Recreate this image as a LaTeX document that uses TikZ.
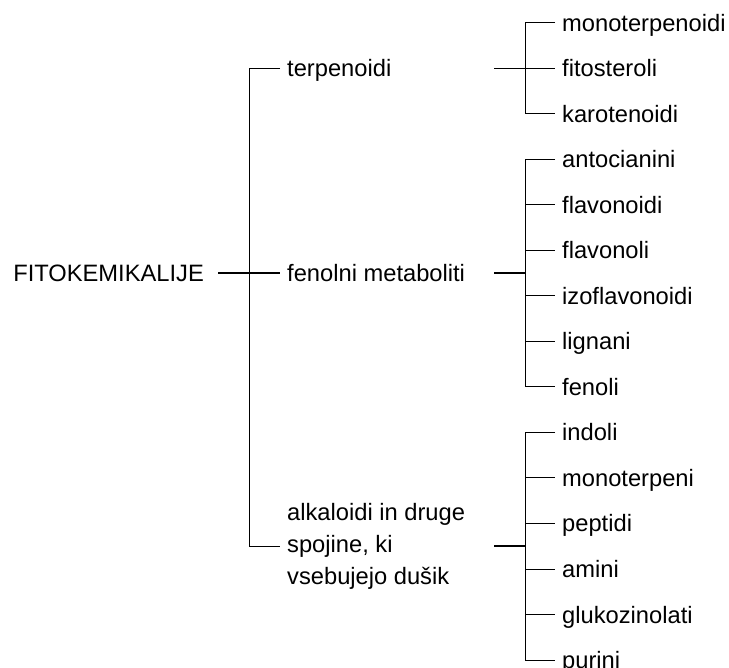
\documentclass[tikz,border=0pt]{standalone}
\usepackage{fontspec}
\setmainfont{Liberation Sans}

\begin{document}
\begin{tikzpicture}[x=1pt,y=-1pt,
  every node/.style={font=\fontsize{23.7}{32}\selectfont},
  item/.style={anchor=west,inner xsep=7pt,inner ysep=0pt,
               text height=17pt,text depth=0pt},
  link/.style={draw=black,line width=1pt},
  stub/.style={draw=black,line width=2pt}]
  \useasboundingbox (0,0) rectangle (729,668);
  % root and the three groups
  \node[item,anchor=east,inner xsep=14pt] (root) at (218,273) {FITOKEMIKALIJE};
  \node[item] (terp) at (280,68.5) {terpenoidi};
  \node[item] (fen)  at (280,273)  {fenolni metaboliti};
  \node[anchor=west,inner xsep=7pt,inner ysep=0pt,align=left] (alk) at (280,546)
    {alkaloidi in druge\\spojine, ki\\vsebujejo dušik};
  % leaves
  \foreach \name [count=\i from 0] in {monoterpenoidi,fitosteroli,karotenoidi,
      antocianini,flavonoidi,flavonoli,izoflavonoidi,lignani,fenoli,
      indoli,monoterpeni,peptidi,amini,glukozinolati,purini}
    \node[item] (l\i) at (555,{23+45.5*\i}) {\name};
  \coordinate (trunk) at (249,273);
  \coordinate (sx) at (494,0);
  \coordinate (bx) at (525,0);
  % main trunk
  \draw[link] (terp.west) -| (alk.west -| trunk) -- (alk.west);
  \draw[link,line width=1.3pt] (root.east) -- (fen.west);
  % brackets
  \draw[link] (l0.west) -| (l2.west -| bx) -- (l2.west);
  \draw[link] (l3.west) -| (l8.west -| bx) -- (l8.west);
  \draw[link] (l9.west) -| (l14.west -| bx) -- (l14.west);
  \foreach \i in {1,4,5,6,7,10,11,12,13}
    \draw[link] (l\i.west -| bx) -- (l\i.west);
  \draw[link] (terp.west -| sx) -- (terp.west -| bx);
  \draw[stub] (fen.west -| sx) -- (fen.west -| bx);
  \draw[stub] (alk.west -| sx) -- (alk.west -| bx);
\end{tikzpicture}
\end{document}
